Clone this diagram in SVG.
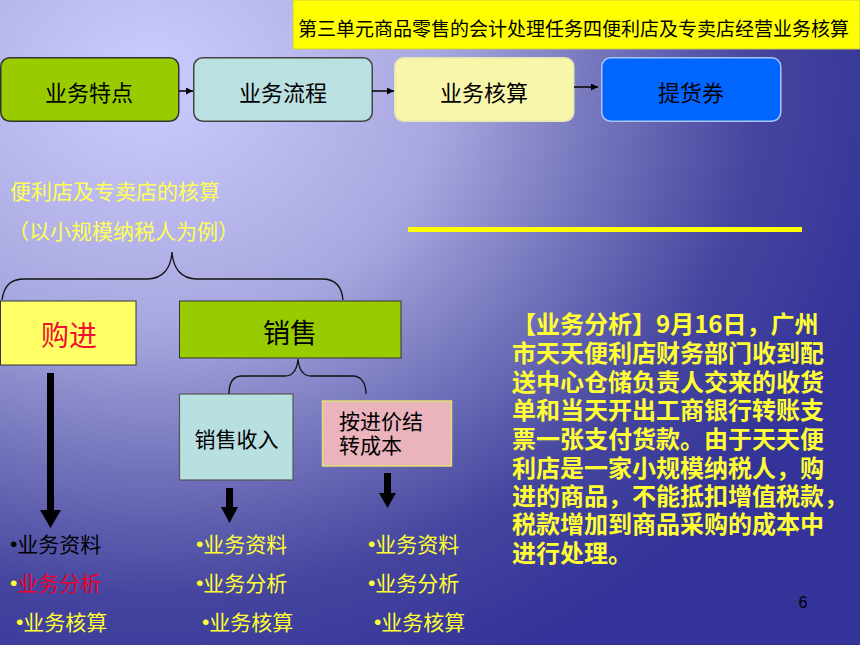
<svg xmlns="http://www.w3.org/2000/svg" width="860" height="645" viewBox="0 0 860 645">
<defs>
<radialGradient id="bg" gradientUnits="userSpaceOnUse" cx="150" cy="80" r="760" gradientTransform="translate(150 80) scale(1 0.85) translate(-150 -80)">
<stop offset="0" stop-color="#ccccff"/>
<stop offset="0.38" stop-color="#a8a8e0"/>
<stop offset="0.57" stop-color="#7a7ac0"/>
<stop offset="0.8" stop-color="#45459f"/>
<stop offset="1" stop-color="#333399"/>
</radialGradient>
<marker id="ah" markerUnits="userSpaceOnUse" markerWidth="7" markerHeight="7" refX="7" refY="3.5" orient="auto">
<path d="M0,0 L7,3.5 L0,7 z" fill="#000"/>
</marker>
<style>
text{font-family:"Noto Sans CJK SC","Noto Sans CJK JP",sans-serif;dominant-baseline:central}
.c{text-anchor:middle}
.tb{stroke-width:1.5}
.y{fill:#ffff55}
.blk{fill:#000}
.para{font-size:24px;font-weight:bold;fill:#ffff33}
.li{font-size:21px}
.bul{font-family:"Liberation Sans",sans-serif}
.brace{fill:none;stroke:#111;stroke-width:1.3}
</style>
</defs>
<rect width="860" height="645" fill="url(#bg)"/>

<g id="title">
<rect x="293" y="0" width="567" height="49" fill="#ffff00" stroke="#cccc44" stroke-width="1"/>
<text x="298" y="27" font-size="19" fill="#000">第三单元商品零售的会计处理任务四便利店及专卖店经营业务核算</text>
</g>

<g id="n-tedian">
<rect class="tb" x="0.75" y="57.75" width="178" height="63.5" rx="9" fill="#99cc00" stroke="#333"/>
<text class="c" x="89" y="91" font-size="22" fill="#000">业务特点</text>
</g>
<g id="n-liucheng">
<rect class="tb" x="193.75" y="57.75" width="178.5" height="63.5" rx="9" fill="#bbe0e2" stroke="#444"/>
<text class="c" x="283" y="91" font-size="22" fill="#000">业务流程</text>
</g>
<g id="n-hesuan">
<rect class="tb" x="394.75" y="57.75" width="179" height="63.5" rx="9" fill="#f8f6aa" stroke="#e6e6b0"/>
<text class="c" x="484" y="91" font-size="22" fill="#000">业务核算</text>
</g>
<g id="n-tihuo">
<rect class="tb" x="601.75" y="57.75" width="179" height="63.5" rx="9" fill="#0066ff" stroke="#a6c8f0"/>
<text class="c" x="691" y="91" font-size="22" fill="#000">提货券</text>
</g>

<g id="heading">
<text class="y" x="10" y="190" font-size="21">便利店及专卖店的核算<tspan x="8" y="230">（以小规模纳税人为例）</tspan></text>
</g>
<line x1="408" y1="229.5" x2="802" y2="229.5" stroke="#ffff00" stroke-width="5"/>

<g id="n-goujin">
<rect x="0.5" y="301" width="135.5" height="64" fill="#ffff66" stroke="#333" stroke-width="1"/>
<text class="c" x="69" y="334" font-size="28" fill="#ee1133">购进</text>
</g>
<g id="n-xiaoshou">
<rect x="179.5" y="301" width="221.5" height="57" fill="#99cc00" stroke="#333" stroke-width="1"/>
<text class="c" x="290" y="331" font-size="27" fill="#000">销售</text>
</g>
<g id="n-shouru">
<rect x="179.5" y="394" width="113.5" height="86" fill="#b8e0e0" stroke="#555" stroke-width="1.2"/>
<text class="c" x="236.5" y="438" font-size="21" fill="#000">销售收入</text>
</g>
<g id="n-chengben">
<rect x="322.5" y="401" width="129" height="65" fill="#ebb4bc" stroke="#e0e070" stroke-width="1.5"/>
<text x="339" y="420" font-size="21" fill="#000">按进价结<tspan x="339" y="444">转成本</tspan></text>
</g>

<g id="connectors">
<line x1="179" y1="91" x2="193" y2="91" stroke="#000" stroke-width="1.5" marker-end="url(#ah)"/>
<line x1="372" y1="91" x2="394" y2="91" stroke="#000" stroke-width="1.5" marker-end="url(#ah)"/>
<line x1="574" y1="87" x2="598" y2="87" stroke="#000" stroke-width="1.5" marker-end="url(#ah)"/>
<path class="brace" d="M2,300 C4,286 10,279 25,279 L147,279 C163,279 171,268 172,252 C173,268 181,279 197,279 L322,279 C336,279 342,288 343,300"/>
<path class="brace" d="M229,394 C229,383 233,376 242,376 L285,376 C293,376 297,370 298,359 C299,370 303,376 311,376 L353,376 C361,376 366,383 366,394"/>
<polygon class="blk" points="47,373 54,373 54,510 61,510 50.5,528 40,510 47,510"/>
<polygon class="blk" points="226,488 233,488 233,507 238,507 229.5,523 221,507 226,507"/>
<polygon class="blk" points="384,473 391,473 391,493 396,493 387.5,508 379,493 384,493"/>
</g>

<g id="list-goujin" class="li">
<text x="10" y="543"><tspan class="bul" fill="#000">•</tspan><tspan fill="#000">业务资料</tspan></text>
<text x="10" y="582"><tspan class="bul" fill="#ffff33">•</tspan><tspan fill="#e8002a">业务分析</tspan></text>
<text x="16" y="621" fill="#ffff33"><tspan class="bul">•</tspan>业务核算</text>
</g>
<g id="list-shouru" class="li" fill="#ffff33">
<text x="196" y="543"><tspan class="bul">•</tspan>业务资料</text>
<text x="196" y="582"><tspan class="bul">•</tspan>业务分析</text>
<text x="202" y="621"><tspan class="bul">•</tspan>业务核算</text>
</g>
<g id="list-chengben" class="li" fill="#ffff33">
<text x="368" y="543"><tspan class="bul">•</tspan>业务资料</text>
<text x="368" y="582"><tspan class="bul">•</tspan>业务分析</text>
<text x="374" y="621"><tspan class="bul">•</tspan>业务核算</text>
</g>

<g id="analysis">
<text class="para" x="512" y="322">【业务分析】9月16日，广州<tspan x="512" y="351">市天天便利店财务部门收到配</tspan><tspan x="512" y="380">送中心仓储负责人交来的收货</tspan><tspan x="512" y="408">单和当天开出工商银行转账支</tspan><tspan x="512" y="437">票一张支付货款。由于天天便</tspan><tspan x="512" y="466">利店是一家小规模纳税人，购</tspan><tspan x="512" y="494">进的商品，不能抵扣增值税款，</tspan><tspan x="512" y="522">税款增加到商品采购的成本中</tspan><tspan x="512" y="551">进行处理。</tspan></text>
</g>

<text x="803" y="602" font-size="16" class="c" style="font-family:'Liberation Sans',sans-serif" fill="#000">6</text>
</svg>
